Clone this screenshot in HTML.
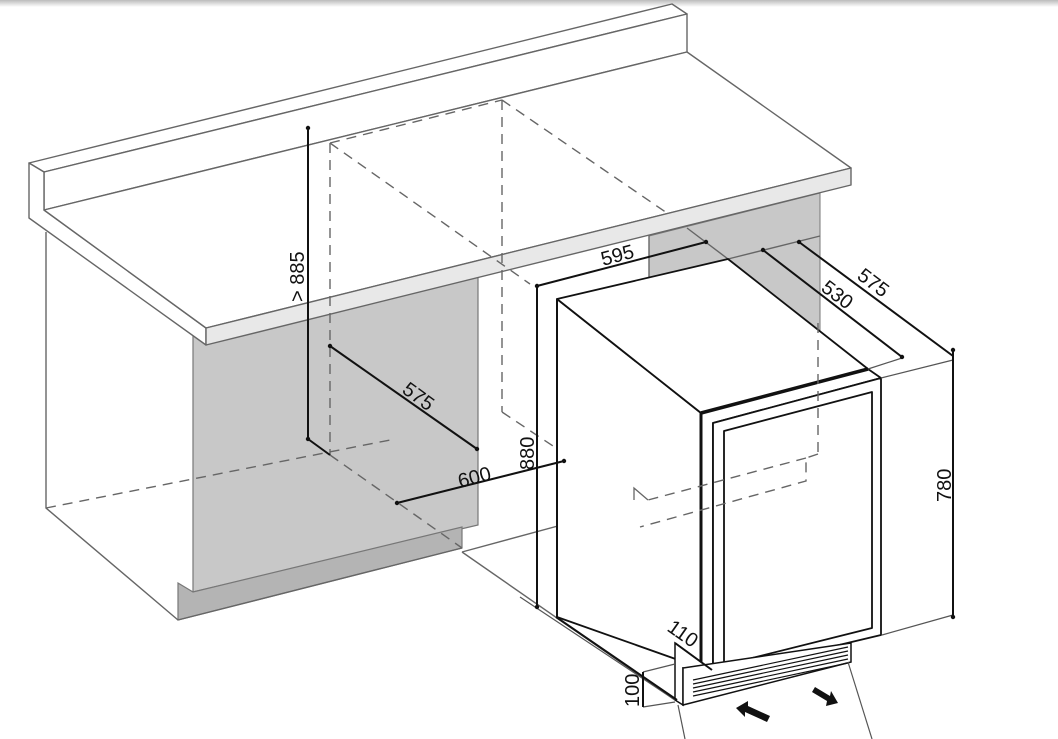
<!DOCTYPE html>
<html><head><meta charset="utf-8"><style>
html,body{margin:0;padding:0;background:#fff;}
svg{display:block;}
text{font-family:"Liberation Sans",Arial,sans-serif;font-size:20px;fill:#111;}
</style></head><body>
<svg width="1058" height="739" viewBox="0 0 1058 739" xmlns="http://www.w3.org/2000/svg">
<defs>
<linearGradient id="top" x1="0" y1="0" x2="0" y2="1"><stop offset="0" stop-color="#bbb"/><stop offset="1" stop-color="#fff"/></linearGradient>
</defs>
<rect x="0" y="0" width="1058" height="7" fill="url(#top)"/>

<polygon points="649,236 820,193 820,440 649,500" fill="#c8c8c8" stroke="#777" stroke-width="1"/>
<polygon points="193,335 478,265 478,525 193,592" fill="#c8c8c8" stroke="#777" stroke-width="1.2"/>
<polygon points="178,583 193,592 462,527 462,548 178,620" fill="#b4b4b4" stroke="#777" stroke-width="1.2"/>

<g fill="none" stroke="#666" stroke-width="1.4">
<polyline points="46,232 46,508 178,620"/>
<line x1="178" y1="620" x2="462" y2="548"/>
<line x1="462" y1="552" x2="580" y2="520"/>
<line x1="462" y1="552" x2="675" y2="700"/>
<line x1="649" y1="236" x2="649" y2="500"/>
<line x1="687" y1="228" x2="728" y2="259"/>
<line x1="728" y1="259" x2="820" y2="236"/>
</g>

<g stroke="#666" stroke-width="1.4" stroke-linejoin="round">
<polygon points="29,163 672,4 687,14 44,172" fill="#fff"/>
<polygon points="44,172 687,14 687,52 44,210" fill="#fff"/>
<polygon points="29,163 44,172 44,210 206,328 206,345 29,218" fill="#fff"/>
<polygon points="44,210 687,52 851,168 206,328" fill="#fff"/>
<polygon points="206,328 851,168 851,185 206,345" fill="#e8e8e8"/>
</g>

<g fill="none" stroke="#666" stroke-width="1.4" stroke-dasharray="10,7">
<line x1="330" y1="143" x2="330" y2="455"/>
<line x1="330" y1="143" x2="502" y2="100"/>
<line x1="502" y1="100" x2="502" y2="412"/>
<line x1="330" y1="143" x2="530" y2="284"/>
<line x1="502" y1="100" x2="667" y2="213"/>
<line x1="502" y1="412" x2="634" y2="500"/>
<line x1="46" y1="508" x2="390" y2="440"/>
<line x1="330" y1="455" x2="462" y2="548"/>
</g>

<g stroke="#111" stroke-width="1.8" stroke-linejoin="round">
<polygon points="557,299 701,413 701,668 557,617" fill="#fff"/>
<polygon points="557,299 728,259 868,369 701,413" fill="#fff"/>
<polygon points="701,413 868,369 881,378 713,423 713,675 701,668" fill="#fff"/>
<polygon points="713,423 881,378 881,635 713,675" fill="#fff"/>
<polygon points="724,431 872,392 872,628 724,665" fill="#fff"/>
</g>
<line x1="701" y1="413" x2="868" y2="369" stroke="#111" stroke-width="3.5"/>
<line x1="701" y1="413" x2="701" y2="668" stroke="#111" stroke-width="3"/>

<g fill="none" stroke="#666" stroke-width="1.4" stroke-dasharray="10,7">
<line x1="818" y1="323" x2="818" y2="454"/>
<polyline points="818,454 806,458 806,481 640,527"/>
<line x1="806" y1="458" x2="648" y2="500"/>
</g>
<polyline points="634,500 634,488 648,500" fill="none" stroke="#666" stroke-width="1.3"/>

<g stroke="#111" stroke-width="1.5" fill="#fff">
<polygon points="675,643 712,670 712,675 683,668 683,705 675,700"/>
<polygon points="683,668 851,643 851,662 683,705"/>
</g>
<g stroke="#111" stroke-width="1.2">
<line x1="693" y1="680" x2="848" y2="647"/><line x1="693" y1="684" x2="848" y2="651"/>
<line x1="693" y1="688" x2="848" y2="655"/><line x1="693" y1="692" x2="848" y2="659"/>
<line x1="693" y1="696" x2="848" y2="663"/>
</g>

<g stroke="#555" stroke-width="1.2" fill="none">
<line x1="881" y1="378" x2="953" y2="360"/>
<line x1="868" y1="369" x2="902" y2="358"/>
<line x1="882" y1="635" x2="953" y2="615"/>
<line x1="520" y1="597" x2="675" y2="700"/>
<line x1="678" y1="705" x2="685" y2="739"/>
<line x1="848" y1="662" x2="872" y2="739"/>
<line x1="643" y1="672" x2="675" y2="664"/>
<line x1="643" y1="707" x2="675" y2="702"/>
</g>

<g stroke="#111" stroke-width="2" fill="none">
<line x1="308" y1="128" x2="308" y2="439"/>
<line x1="308" y1="439" x2="330" y2="455"/>
<line x1="330" y1="346" x2="477" y2="449"/>
<line x1="397" y1="503" x2="564" y2="461"/>
<line x1="537" y1="286" x2="537" y2="607"/>
<line x1="557" y1="299" x2="557" y2="617"/>
<line x1="537" y1="286" x2="706" y2="242"/>
<line x1="763" y1="250" x2="902" y2="357"/>
<line x1="799" y1="242" x2="953" y2="356"/>
<line x1="953" y1="350" x2="953" y2="617"/>
<line x1="556" y1="617" x2="677" y2="700"/>
<line x1="675" y1="643" x2="712" y2="670"/>
<line x1="643" y1="672" x2="643" y2="707"/>
</g>
<g fill="#111">
<circle cx="308" cy="128" r="2.2"/><circle cx="308" cy="439" r="2.2"/>
<circle cx="330" cy="346" r="2.2"/><circle cx="477" cy="449" r="2.2"/>
<circle cx="397" cy="503" r="2.2"/><circle cx="564" cy="461" r="2.2"/>
<circle cx="537" cy="286" r="2.2"/><circle cx="706" cy="242" r="2.2"/>
<circle cx="763" cy="250" r="2.2"/><circle cx="902" cy="357" r="2.2"/>
<circle cx="799" cy="242" r="2.2"/><circle cx="953" cy="350" r="2.2"/>
<circle cx="953" cy="617" r="2.2"/><circle cx="537" cy="607" r="2.2"/>
<polygon points="736,708 748,701 748,706 770,716 767,722 745,712 745,717"/>
<polygon points="838,703 826,706 827,701 812,692 815,687 830,696 831,691"/>
</g>

<text transform="translate(304,302) rotate(-90)">&gt; 885</text>
<text transform="translate(401,392) rotate(36)">575</text>
<text transform="translate(460,488) rotate(-15)">600</text>
<text transform="translate(534,470) rotate(-90)">880</text>
<text transform="translate(603,266) rotate(-15)">595</text>
<text transform="translate(820,290) rotate(37)">530</text>
<text transform="translate(856,278) rotate(37)">575</text>
<text transform="translate(951,502) rotate(-90)">780</text>
<text transform="translate(666,630) rotate(35)">110</text>
<text transform="translate(639,707) rotate(-90)">100</text>
</svg>
</body></html>
